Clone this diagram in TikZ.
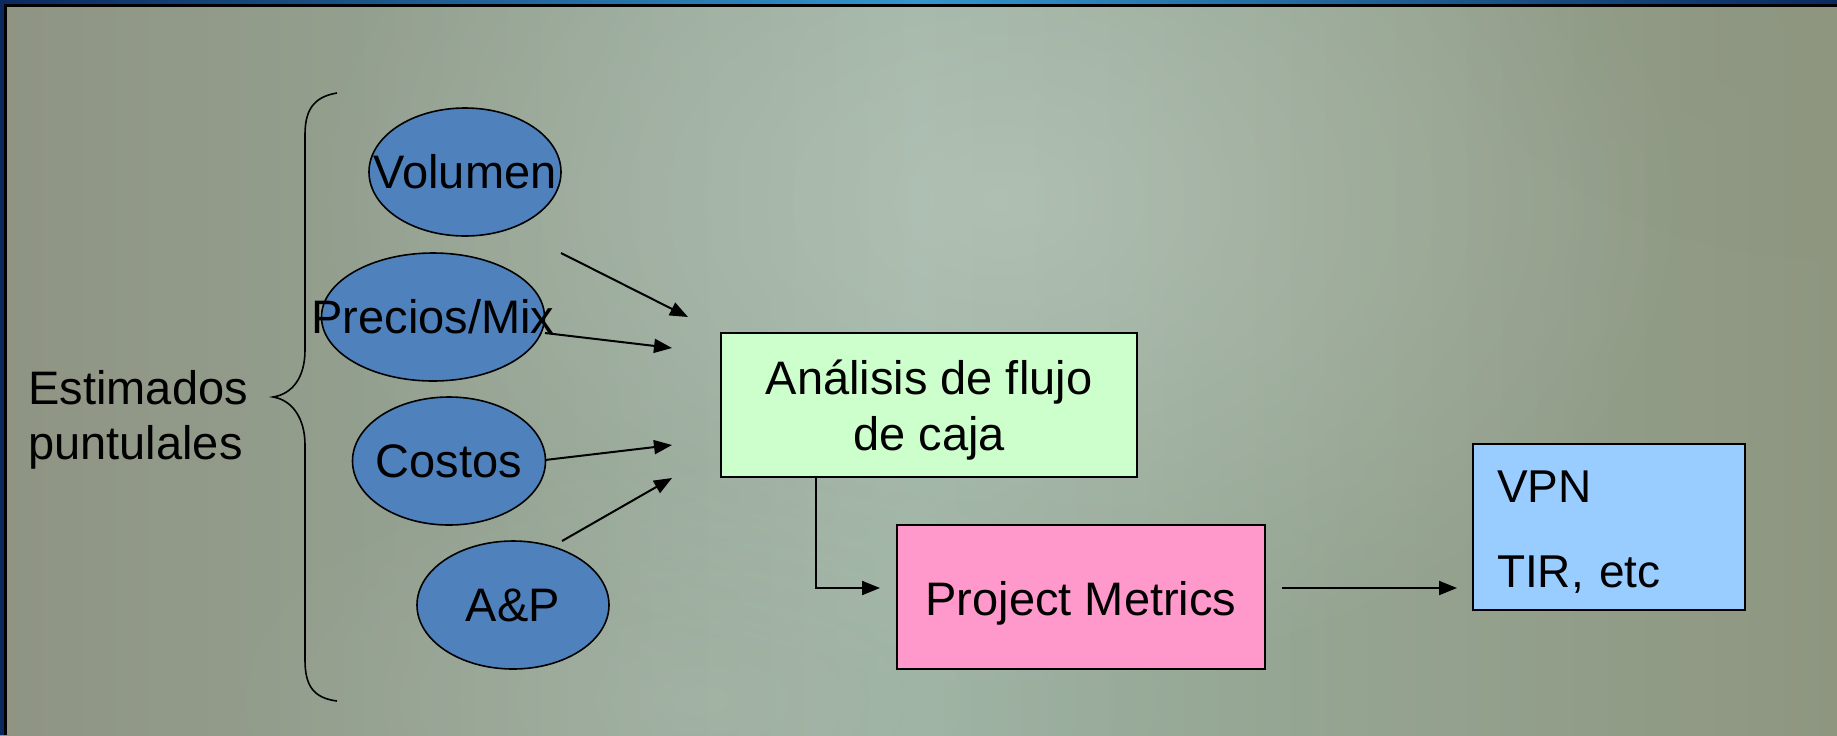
\documentclass[tikz,border=0pt]{standalone}
\usepackage{fontspec}
\setmainfont{Liberation Sans}
\usetikzlibrary{shapes.geometric,arrows.meta,fadings}
\tikzfading[name=softout, inner color=transparent!0, outer color=transparent!100]
\definecolor{bgL}{HTML}{8F9483}
\definecolor{bgM}{HTML}{9AB0A0}
\definecolor{bgR}{HTML}{8E9680}
\definecolor{ovalblue}{HTML}{4F81BD}
\definecolor{boxgreen}{HTML}{CCFFCC}
\definecolor{boxpink}{HTML}{FF99CC}
\definecolor{boxblue}{HTML}{99CCFF}
\definecolor{navy}{HTML}{0A2A5E}
\definecolor{barmid}{HTML}{3396CC}
\begin{document}
\begin{tikzpicture}[x=0.5pt,y=-0.5pt,
  oval/.style={ellipse,draw=black,line width=0.8pt,fill=ovalblue,inner sep=0pt,
    font=\fontsize{23.5}{28}\selectfont},
  flowbox/.style={rectangle,draw=black,line width=1pt,inner sep=0pt,text depth=0pt},
  conn/.style={line width=1pt,-{Triangle[length=9pt,width=7pt]}},
  txt/.style={font=\fontsize{23.5}{28}\selectfont,inner sep=0pt}]
\useasboundingbox (0,0) rectangle (1837,735);
% background
\shade[left color=bgL,right color=bgR,middle color=bgM] (0,0) rectangle (1837,735);
\fill[white,opacity=0.22,path fading=softout] (1000,200) ellipse (700 and 500);
\fill[bgR,opacity=0.6,path fading=softout] (1837,0) ellipse (380 and 260);
\fill[white,opacity=0.10,path fading=softout] (700,700) ellipse (500 and 250);
% frame
\shade[left color=navy,right color=navy,middle color=barmid] (0,0) rectangle (1837,4);
\fill[black] (0,4) rectangle (1837,6.5);
\fill[navy] (0,0) rectangle (4,735);
\fill[black] (4,6) rectangle (6.5,735);

% left label and brace
\node[txt,align=left,anchor=base west] (est) at (28,459) {Estimados\\[-0.6pt]puntulales};
\draw[line width=0.8pt] (337,93) .. controls (312,97) and (305,112) .. (305,135)
  -- (305,350) .. controls (305,378) and (292,394) .. (273,397)
  .. controls (292,400) and (305,418) .. (305,445)
  -- (305,660) .. controls (305,685) and (313,698) .. (337,701);

% ovals
\node[oval,minimum width=96pt,minimum height=64pt] (vol) at (465,172) {\makebox[0pt]{Volumen}};
\node[oval,minimum width=111.5pt,minimum height=64pt] (pre) at (433,317) {\makebox[0pt]{Precios/Mix}};
\node[oval,minimum width=96.5pt,minimum height=64pt] (cos) at (449,461) {\makebox[0pt]{Costos}};
\node[oval,minimum width=96pt,minimum height=64pt] (ap) at (513,605) {\makebox[0pt]{A\&P}};

% boxes
\node[flowbox,fill=boxgreen,minimum width=208pt,minimum height=72pt,align=center,
  text height=45pt,font=\fontsize{23.5}{28}\selectfont] (ana) at (929,405)
  {Análisis de flujo\\de caja};
\node[flowbox,fill=boxpink,minimum width=184pt,minimum height=72pt,text height=18pt,
  font=\fontsize{23.5}{28}\selectfont] (pm) at (1081,597) {Project Metrics};
\node[flowbox,fill=boxblue,minimum width=136pt,minimum height=83pt,text width=112pt,
  text height=17.5pt,text depth=42.5pt,inner xsep=12pt,align=left,
  font=\fontsize{23}{28}\selectfont] (vpn) at (1609,527)
  {VPN\\[14.5pt]TIR, etc};

% connector end points
\coordinate (s1) at (561,253); \coordinate (e1) at (688,317);
\coordinate (s2) at (545,333); \coordinate (e2) at (672,348);
\coordinate (s3) at (545,460); \coordinate (e3) at (672,445);
\coordinate (s4) at (562,541); \coordinate (e4) at (672,478);
\coordinate (pmin) at (880,588);
\coordinate (pmout) at (1282,588);
\coordinate (vpnin) at (1457,588);

\draw[conn] (s1) -- (e1);
\draw[conn] (s2) -- (e2);
\draw[conn] (s3) -- (e3);
\draw[conn] (s4) -- (e4);
\draw[conn] ([xshift=48pt]ana.south west) |- (pmin);
\draw[conn] (pmout) -- (vpnin);
\end{tikzpicture}
\end{document}
